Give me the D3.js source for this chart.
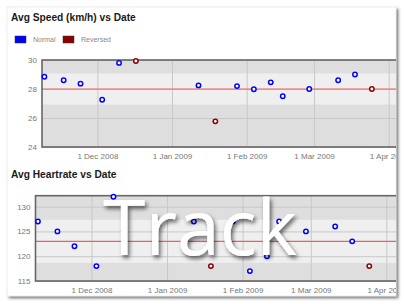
<!DOCTYPE html>
<html>
<head>
<meta charset="utf-8">
<script src="https://cdn.jsdelivr.net/npm/d3@7"></script>
<style>
  body { margin: 0; background: #fff; }
  svg { display: block; }
</style>
</head>
<body>
<div id="chart"></div>
<script>
// data
var dates = ["2008-11-09", "2008-11-17", "2008-11-24", "2008-12-03", "2008-12-10", "2008-12-17",
             "2009-01-12", "2009-01-19", "2009-01-28", "2009-02-04", "2009-02-11", "2009-02-16",
             "2009-02-27", "2009-03-11", "2009-03-18", "2009-03-25"];
var direction = ["Normal", "Normal", "Normal", "Normal", "Normal", "Reversed",
                 "Normal", "Reversed", "Normal", "Normal", "Normal", "Normal",
                 "Normal", "Normal", "Normal", "Reversed"];
var speed = [28.85, 28.6, 28.37, 27.26, 29.8, 29.93, 28.25, 25.77, 28.2, 27.98, 28.46, 27.5, 28.0, 28.6, 29.0, 28.0];
// no heartrate shown for 17 Dec
var heartrate = [127, 125, 122, 118, 132, null, 127, 118, 127, 117, 120, 127, 125, 126, 123, 118];

var speedTicks = [24, 26, 28, 30];
var heartTicks = [115, 120, 125, 130];
var monthTicks = ["2008-12-01", "2009-01-01", "2009-02-01", "2009-03-01", "2009-04-01"];
var dateRange = ["2008-11-08", "2009-04-14"];
var legendLabels = ["Normal", "Reversed"];

var speedMean = 28.0, speedStd = 1.07;
var heartMean = 123.0, heartStd = 4.35;

var parse = d3.timeParse("%Y-%m-%d");
var fmt = d3.timeFormat("%-d %b %Y");
var color = d3.scaleOrdinal().domain(legendLabels).range(["#0000ff", "#8b0000"]);

var W = 404, H = 304;
var svg = d3.select("#chart").append("svg").attr("width", W).attr("height", H);

var defs = svg.append("defs");
var f = defs.append("filter").attr("id", "cardShadow").attr("x", "-5%").attr("y", "-5%").attr("width", "110%").attr("height", "110%");
f.append("feDropShadow").attr("dx", 2).attr("dy", 2).attr("stdDeviation", 1.6).attr("flood-color", "#000").attr("flood-opacity", 0.55);
defs.append("clipPath").attr("id", "cardClip").append("rect")
    .attr("x", 7).attr("y", 7).attr("width", 389).attr("height", 289);
var tf = defs.append("filter").attr("id", "textShadow").attr("x", "-10%").attr("y", "-10%").attr("width", "120%").attr("height", "130%");
tf.append("feDropShadow").attr("dx", 2).attr("dy", 3).attr("stdDeviation", 2).attr("flood-color", "#000").attr("flood-opacity", 0.6);

// the card
svg.append("rect").attr("x", 7).attr("y", 7).attr("width", 389).attr("height", 289)
    .attr("fill", "#fff").attr("stroke", "#ddd").attr("stroke-width", 0.5)
    .attr("filter", "url(#cardShadow)");

var card = svg.append("g").attr("clip-path", "url(#cardClip)");

function drawChart(opt) {
    var g = card.append("g");
    var x = d3.scaleTime().domain(dateRange.map(parse)).range([opt.left, opt.right]);
    var y = d3.scaleLinear().domain(opt.yDomain).range([opt.bottom, opt.top]);

    g.append("text").attr("x", 11).attr("y", opt.titleY)
        .attr("font-family", "Liberation Sans, Arial, sans-serif")
        .attr("font-weight", "bold").attr("font-size", 10.2).attr("fill", "#1a1a1a")
        .text(opt.title);

    // background bands: darker outside, lighter within one std of the mean
    g.append("rect").attr("x", opt.left).attr("y", opt.top)
        .attr("width", opt.right - opt.left).attr("height", opt.bottom - opt.top)
        .attr("fill", "#dedede");
    g.append("rect").attr("x", opt.left).attr("y", y(opt.mean + opt.std))
        .attr("width", opt.right - opt.left)
        .attr("height", y(opt.mean - opt.std) - y(opt.mean + opt.std))
        .attr("fill", "#efefef");

    // grid
    var gx = g.append("g").attr("transform", "translate(0," + opt.bottom + ")")
        .call(d3.axisBottom(x).tickValues(monthTicks.map(parse)).tickSize(-(opt.bottom - opt.top)).tickFormat(""));
    gx.select(".domain").remove();
    gx.selectAll("line").attr("stroke", "#c8c8c8");

    var gy = g.append("g").attr("transform", "translate(" + opt.left + ",0)")
        .call(d3.axisLeft(y).tickValues(opt.yTicks).tickSize(-(opt.right - opt.left)).tickFormat(""));
    gy.select(".domain").remove();
    gy.selectAll("line").attr("stroke", "#c8c8c8");

    // mean line
    g.append("line").attr("x1", opt.left).attr("x2", opt.right)
        .attr("y1", y(opt.mean)).attr("y2", y(opt.mean))
        .attr("stroke", "#ee6060").attr("stroke-width", 1.2);

    // frame
    g.append("rect").attr("x", opt.left).attr("y", opt.top)
        .attr("width", opt.right - opt.left).attr("height", opt.bottom - opt.top)
        .attr("fill", "none").attr("stroke", "#666").attr("stroke-width", 1.6);

    // tick labels
    var lx = g.append("g").attr("transform", "translate(0," + opt.bottom + ")")
        .call(d3.axisBottom(x).tickValues(monthTicks.map(parse)).tickSize(0).tickPadding(6).tickFormat(fmt));
    lx.select(".domain").remove();
    lx.selectAll("text").attr("font-family", "Liberation Sans, Arial, sans-serif")
        .attr("font-size", 8).attr("fill", "#777");

    var ly = g.append("g").attr("transform", "translate(" + opt.left + ",0)")
        .call(d3.axisLeft(y).tickValues(opt.yTicks).tickSize(0).tickPadding(5).tickFormat(d3.format("d")));
    ly.select(".domain").remove();
    ly.selectAll("text").attr("font-family", "Liberation Sans, Arial, sans-serif")
        .attr("font-size", 8).attr("fill", "#777");

    // points
    var pts = dates.map(function(d, i) {
        return { date: parse(d), value: opt.values[i], dir: direction[i] };
    }).filter(function(d) { return d.value != null; });

    g.selectAll("circle.pt").data(pts).enter().append("circle")
        .attr("class", "pt")
        .attr("cx", function(d) { return x(d.date); })
        .attr("cy", function(d) { return y(d.value); })
        .attr("r", 2.2)
        .attr("fill", "#fff")
        .attr("stroke", function(d) { return color(d.dir); })
        .attr("stroke-width", 1.5);
    return g;
}

var top1 = drawChart({
    title: "Avg Speed (km/h) vs Date", titleY: 20.5,
    left: 42, right: 420, top: 60, bottom: 147,
    yDomain: [24, 30], yTicks: speedTicks, values: speed,
    mean: speedMean, std: speedStd
});

// legend
var leg = top1.append("g").attr("transform", "translate(15,36)");
var items = leg.selectAll("g").data(legendLabels).enter().append("g")
    .attr("transform", function(d, i) { return "translate(" + (i * 48) + ",0)"; });
items.append("rect").attr("width", 11).attr("height", 7)
    .attr("fill", function(d) { return color(d); })
    .attr("stroke", "#333").attr("stroke-width", 0.5);
items.append("text").attr("x", 18).attr("y", 6.3)
    .attr("font-family", "Liberation Sans, Arial, sans-serif")
    .attr("font-size", 7).attr("fill", "#888")
    .text(function(d) { return d; });

drawChart({
    title: "Avg Heartrate vs Date", titleY: 177.5,
    left: 35.5, right: 418, top: 195.7, bottom: 281,
    yDomain: [115, 132.2], yTicks: heartTicks, values: heartrate,
    mean: heartMean, std: heartStd
});

// overlay caption
svg.append("text").attr("x", 103).attr("y", 255)
    .attr("font-family", "Open Sans, sans-serif").attr("font-size", 77)
    .attr("fill", "#fff").attr("filter", "url(#textShadow)")
    .text("Track");
</script>
</body>
</html>
